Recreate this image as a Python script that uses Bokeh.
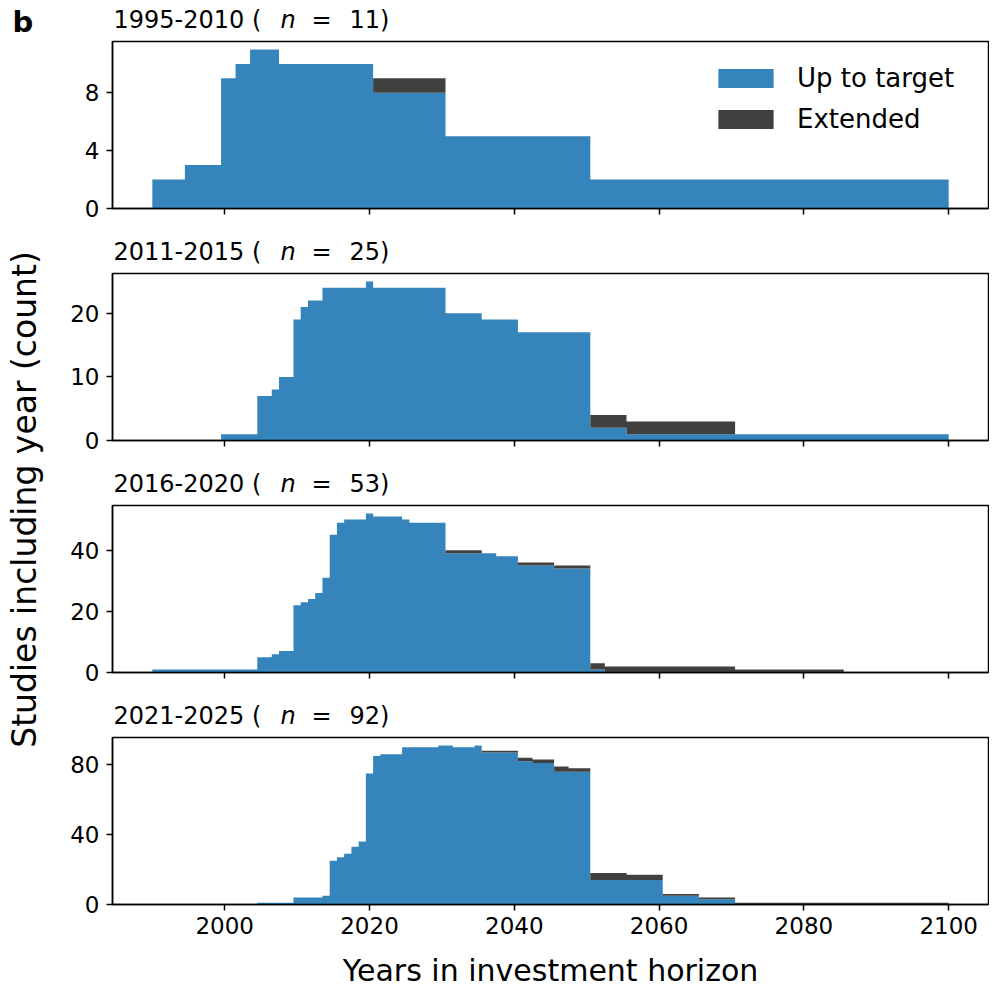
import numpy as np
from bokeh.plotting import figure
from bokeh.layouts import row, column
from bokeh.models import Label, Range1d, FixedTicker, Legend, LegendItem, ColumnDataSource
from bokeh.embed import file_html
from bokeh.resources import INLINE

FONT = "DejaVu Sans"
YEAR_MIN, YEAR_MAX = 1990, 2100
x_ticks = [2000, 2020, 2040, 2060, 2080, 2100]

periods = ["1995-2010", "2011-2015", "2016-2020", "2021-2025"]
n_studies = [11, 25, 53, 92]
y_ticks = [[0, 4, 8], [0, 10, 20], [0, 20, 40], [0, 40, 80]]

# step data: first year of each run, count "up to target", count "extended"
p1_start = [1990, 1995, 2000, 2002, 2004, 2008, 2021, 2031, 2051]
p1_target = [2, 3, 9, 10, 11, 10, 8, 5, 2]
p1_ext = [0, 0, 0, 0, 0, 0, 1, 0, 0]

p2_start = [2000, 2005, 2007, 2008, 2010, 2011, 2012, 2014, 2020, 2021, 2031, 2036, 2041, 2051, 2056, 2071]
p2_target = [1, 7, 8, 10, 19, 21, 22, 24, 25, 24, 20, 19, 17, 2, 1, 1]
p2_ext = [0, 0, 0, 0, 0, 0, 0, 0, 0, 0, 0, 0, 0, 2, 2, 0]

p3_start = [1990, 2005, 2007, 2008, 2010, 2011, 2012, 2013, 2014, 2015, 2016, 2017, 2020, 2021, 2025,
            2026, 2031, 2036, 2038, 2041, 2046, 2051, 2053, 2071, 2086]
p3_target = [1, 5, 6, 7, 22, 23, 24, 26, 31, 45, 49, 50, 52, 51, 50,
             49, 39, 39, 38, 35, 34, 1, 0, 0, 0]
p3_ext = [0, 0, 0, 0, 0, 0, 0, 0, 0, 0, 0, 0, 0, 0, 0,
          0, 1, 0, 0, 1, 1, 2, 2, 1, 0]

p4_start = [2005, 2010, 2014, 2015, 2016, 2017, 2018, 2019, 2020, 2021, 2022, 2025, 2030, 2032, 2035,
            2036, 2041, 2043, 2046, 2048, 2051, 2056, 2061, 2066, 2071]
p4_target = [1, 4, 5, 25, 27, 29, 33, 36, 75, 85, 86, 90, 91, 90, 91,
             87, 82, 81, 76, 76, 14, 14, 5, 3, 0]
p4_ext = [0, 0, 0, 0, 0, 0, 0, 0, 0, 0, 0, 0, 0, 0, 0,
          1, 2, 2, 3, 2, 4, 3, 1, 1, 1]

panels = [(p1_start, p1_target, p1_ext), (p2_start, p2_target, p2_ext),
          (p3_start, p3_target, p3_ext), (p4_start, p4_target, p4_ext)]

BLUE = "#1f77b4"
DARK = "#404040"

FIG_W = 941
FRAME_H = 167
BOTTOM_INNER = 18
BOTTOM_LAST = 88
TITLE_H0 = 40
TITLE_H = 232 - (1 + FRAME_H + BOTTOM_INNER)
x_range = Range1d(1984.5, 2105.5)


def title_fig(h, period, n):
    t = figure(width=FIG_W, height=h, x_range=Range1d(0, 1), y_range=Range1d(0, 1),
               x_axis_type=None, y_axis_type=None, min_border=0, output_backend="svg",
               toolbar_location=None, outline_line_color=None)
    t.grid.visible = False
    common = dict(y=21, x_units="screen", y_units="screen", text_font=FONT,
                  text_font_size="24px", text_color="black", text_baseline="alphabetic")
    t.add_layout(Label(x=1, text=f"{period} (", **common))
    t.add_layout(Label(x=168, text="n", text_font_style="italic", **common))
    t.add_layout(Label(x=199, text="=", **common))
    t.add_layout(Label(x=237, text=f"{n})", **common))
    return t


items = []
for i, ((starts, target, ext), period, n, yt) in enumerate(zip(panels, periods, n_studies, y_ticks)):
    last = i == 3
    s = np.array(starts, dtype=float)
    ends = np.append(s[1:], YEAR_MAX + 1)
    left = np.maximum(s - 0.5, YEAR_MIN)
    right = np.minimum(ends - 0.5, YEAR_MAX)
    tgt = np.array(target, dtype=float)
    tot = tgt + np.array(ext, dtype=float)
    xs = np.column_stack([left, right]).ravel()
    src = ColumnDataSource(dict(x=xs, tgt=np.repeat(tgt, 2), tot=np.repeat(tot, 2),
                                zero=np.zeros(len(xs))))
    ymax = tot.max() * 1.05
    bottom = BOTTOM_LAST if last else BOTTOM_INNER
    p = figure(width=FIG_W, height=FRAME_H + 1 + bottom, x_range=x_range,
               y_range=Range1d(0, ymax), output_backend="svg", toolbar_location=None,
               min_border_left=64, min_border_right=1, min_border_top=1,
               min_border_bottom=bottom)
    r1 = p.varea(x="x", y1="zero", y2="tgt", source=src, fill_color=BLUE, fill_alpha=0.9)
    r2 = p.varea(x="x", y1="tgt", y2="tot", source=src, fill_color=DARK, fill_alpha=1.0)
    p.grid.visible = False
    p.outline_line_color = "black"
    p.outline_line_width = 1.5
    p.outline_line_alpha = 1.0
    for ax in (p.xaxis, p.yaxis):
        ax.axis_line_width = 1.5
        ax.major_tick_line_width = 1.5
        ax.major_tick_out = 6
        ax.major_tick_in = 0
        ax.minor_tick_line_color = None
        ax.major_label_text_font = FONT
        ax.major_label_text_font_size = "23px"
        ax.major_label_text_color = "black"
    p.xaxis.ticker = FixedTicker(ticks=x_ticks)
    p.yaxis.ticker = FixedTicker(ticks=yt)
    p.yaxis.major_label_standoff = 7
    if last:
        p.xaxis.major_label_standoff = 6
        p.xaxis.axis_label = "Years in investment horizon"
        p.xaxis.axis_label_text_font = FONT
        p.xaxis.axis_label_text_font_size = "30px"
        p.xaxis.axis_label_text_font_style = "normal"
        p.xaxis.axis_label_text_color = "black"
        p.xaxis.axis_label_standoff = 16
    else:
        p.xaxis.major_label_text_color = None
        p.xaxis.major_label_text_font_size = "1px"
        p.xaxis.major_label_standoff = 0

    if i == 0:
        legend = Legend(items=[LegendItem(label="Up to target", renderers=[r1]),
                               LegendItem(label="Extended", renderers=[r2])],
                        location=(599, 74), padding=0, margin=0, spacing=11,
                        glyph_width=69, glyph_height=24, label_standoff=17,
                        label_text_font=FONT, label_text_font_size="26px",
                        label_text_color="black",
                        border_line_color=None, background_fill_alpha=0)
        p.add_layout(legend)
    items.append(title_fig(TITLE_H0 if i == 0 else TITLE_H, period, n))
    items.append(p)

total_h = TITLE_H0 + 3 * TITLE_H + 3 * (FRAME_H + 1 + BOTTOM_INNER) + (FRAME_H + 1 + BOTTOM_LAST)
lab = figure(width=48, height=total_h, x_range=Range1d(0, 1), y_range=Range1d(0, 1),
             x_axis_type=None, y_axis_type=None, min_border=0, output_backend="svg",
             toolbar_location=None, outline_line_color=None)
lab.grid.visible = False
lab.add_layout(Label(x=24, y=total_h - 499, x_units="screen", y_units="screen",
                     text="Studies including year (count)", angle=90, angle_units="deg",
                     text_align="center", text_baseline="middle", text_font=FONT,
                     text_font_size="33px", text_color="black"))
lab.add_layout(Label(x=12, y=total_h - 21, x_units="screen", y_units="screen", text="b",
                     text_font=FONT, text_font_size="29px", text_font_style="bold",
                     text_color="black", text_baseline="alphabetic"))

layout = row(lab, column(*items))
open("out.html", "w").write(file_html(layout, INLINE))
